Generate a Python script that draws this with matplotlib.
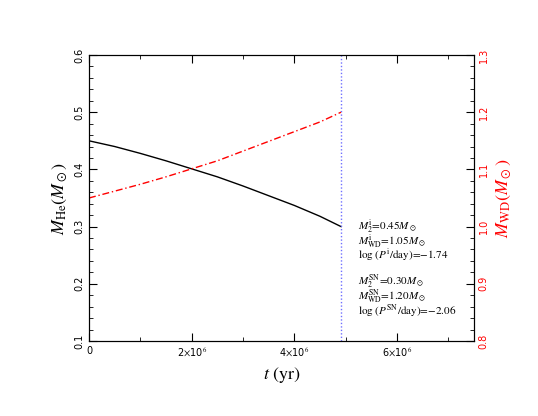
import numpy as np
import matplotlib
matplotlib.use("Agg")
import matplotlib.pyplot as plt
from matplotlib.ticker import MultipleLocator, FuncFormatter

plt.rcParams["mathtext.fontset"] = "stix"
plt.rcParams["font.family"] = "DejaVu Sans"

# ============= Data =============

t_he = [0, 0.5e6, 1e6, 1.5e6, 2e6, 2.5e6, 3e6, 3.5e6, 4e6, 4.5e6, 4.91e6]
m_he = [0.450, 0.440, 0.428, 0.415, 0.401, 0.387, 0.371, 0.354, 0.337, 0.318, 0.300]

t_wd = [0, 0.5e6, 1e6, 1.5e6, 2e6, 2.5e6, 3e6, 3.5e6, 4e6, 4.5e6, 4.91e6]
m_wd = [1.050, 1.062, 1.074, 1.087, 1.101, 1.115, 1.132, 1.149, 1.166, 1.183, 1.200]

t_sn = 4.91e6

lines_i = [r"$M_2^{\rm i}$=0.45$M_\odot$",
           r"$M_{\rm WD}^{\rm i}$=1.05$M_\odot$",
           r"log ($P^{\rm i}$/day)=$-$1.74"]
lines_sn = [r"$M_2^{\rm SN}$=0.30$M_\odot$",
            r"$M_{\rm WD}^{\rm SN}$=1.20$M_\odot$",
            r"log ($P^{\rm SN}$/day)=$-$2.06"]

# ============= Plot =============

fig = plt.figure(figsize=(5.38, 4.16), dpi=100)
ax = fig.add_axes([89 / 538, 1 - 341 / 416, 385 / 538, 286 / 416])
ax2 = ax.twinx()

ax.plot(t_he, m_he, color="black", lw=1.0)
ax2.plot(t_wd, m_wd, color="red", lw=1.0, ls=(0, (5, 2, 1, 2)))
ax.axvline(t_sn, color="#7070ff", lw=1.0, ls=(0, (1, 1.5)))

ax.set_xlim(0, 7.5e6)
ax.set_ylim(0.1, 0.6)
ax2.set_ylim(0.8, 1.3)

def sci_fmt(x, pos):
    if x == 0:
        return "0"
    return r"%d$\times$10$^{6}$" % round(x / 1e6)

ax.xaxis.set_major_locator(MultipleLocator(2e6))
ax.xaxis.set_minor_locator(MultipleLocator(1e6))
ax.xaxis.set_major_formatter(FuncFormatter(sci_fmt))
ax.yaxis.set_major_locator(MultipleLocator(0.1))
ax.yaxis.set_minor_locator(MultipleLocator(0.02))
ax2.yaxis.set_major_locator(MultipleLocator(0.1))
ax2.yaxis.set_minor_locator(MultipleLocator(0.02))
ax.yaxis.set_major_formatter(FuncFormatter(lambda v, p: "%.1f" % v))
ax2.yaxis.set_major_formatter(FuncFormatter(lambda v, p: "%.1f" % v))

ax.tick_params(axis="both", which="both", direction="in", top=True, labelsize=7)
ax.tick_params(which="major", length=6)
ax.tick_params(which="minor", length=3)
ax.tick_params(axis="y", labelrotation=90)
ax2.tick_params(axis="y", which="both", direction="in", labelsize=7,
                labelcolor="red", labelrotation=90)
ax2.tick_params(which="major", length=6)
ax2.tick_params(which="minor", length=3)
for lab in ax.get_yticklabels() + ax2.get_yticklabels():
    lab.set_va("center")

ax.set_xlabel(r"$t$ (yr)", fontsize=13, family="STIXGeneral")
ax.set_ylabel(r"$M_{\rm He}(M_\odot)$", fontsize=13, labelpad=4)
ax2.set_ylabel(r"$M_{\rm WD}(M_\odot)$", fontsize=13, color="red", labelpad=4)

# two text blocks, centred on the reference's pixel rows
def row_to_data(py):
    return 0.6 - (py - 55) / 572

ax.text(5.24e6, row_to_data(241), "\n".join(lines_i), fontsize=8, va="center",
        ha="left", family="STIXGeneral", linespacing=0.72)
ax.text(5.24e6, row_to_data(296.5), "\n".join(lines_sn), fontsize=8, va="center",
        ha="left", family="STIXGeneral", linespacing=0.72)

fig.savefig("out.png", dpi=100)
